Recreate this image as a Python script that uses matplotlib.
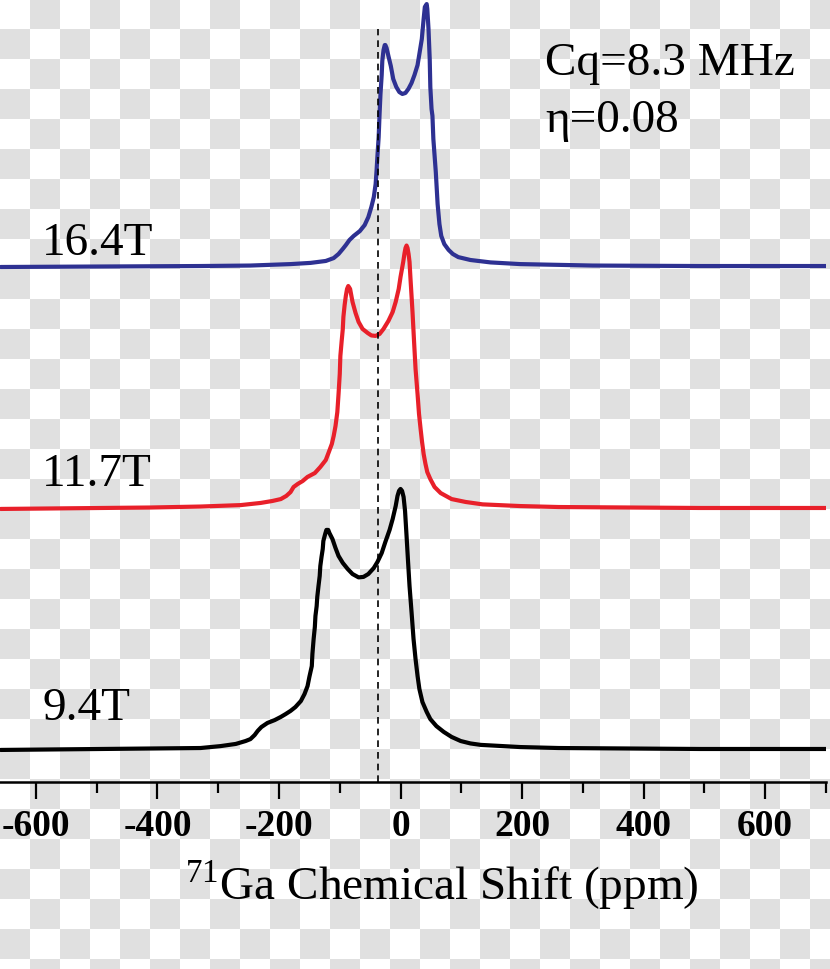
import matplotlib
matplotlib.use('Agg')
import matplotlib.pyplot as plt
import numpy as np

# 71Ga static spectra at three fields, intensities
# (each spectrum normalised so the stacking offset is 1)
fields = ['16.4T', '11.7T', '9.4T']
offsets = [2, 1, 0]
colors = ['#2e3192', '#e8202a', '#000000']

blue_ppm = [-658, -493, -329, -247, -181, -148, -123, -110, -102, -95,
            -90, -84, -77, -67, -59, -53, -48, -44, -41, -39.5,
            -38, -36, -34.5, -33, -31, -30, -28, -26, -25, -23,
            -20, -16, -12, -7, -2, 3, 8, 13, 18, 23,
            28, 31, 35, 38, 40, 43, 44, 46, 48, 49,
            51, 52.5, 54, 58, 61, 64, 67, 72, 79, 86,
            95, 115, 148, 197, 316, 493, 700]
blue_int = [0, .002, .004, .006, .012, .017, .025, .037, .054, .075,
            .091, .112, .129, .149, .174, .207, .249, .290, .344, .398,
            .461, .539, .635, .718, .797, .855, .900, .921, .921, .909,
            .876, .834, .780, .747, .726, .718, .722, .739, .763, .797,
            .838, .884, .946, 1.029, 1.079, 1.091, 1.071, .988, .863, .747,
            .656, .627, .531, .394, .261, .178, .129, .095, .071, .054,
            .041, .029, .019, .012, .006, .004, .004]

red_ppm = [-658, -411, -329, -263, -230, -211, -197, -188, -181, -176,
           -169, -161, -153, -141, -132, -123, -118, -113, -110, -107,
           -104, -102, -100, -99, -97, -95, -94, -92, -90, -88,
           -86, -83, -79, -74, -69, -62.5, -54, -48, -41, -34.5,
           -28, -20, -13, -8, -3, 0, 4.4, 6.6, 8.2, 9.9,
           11.5, 13.2, 14.8, 16.4, 18.1, 19.7, 22.2, 24.7, 28, 30.4,
           33, 35.4, 38, 41, 44, 49, 56, 66, 84, 107,
           135, 197, 260, 493, 700]
red_int = [-.004, .002, .006, .012, .021, .029, .037, .050, .066, .087,
           .100, .112, .129, .145, .170, .199, .232, .266, .299, .340,
           .398, .473, .556, .631, .689, .743, .793, .842, .880, .909,
           .921, .909, .855, .809, .772, .743, .726, .716, .714, .722,
           .743, .776, .813, .855, .909, .959, 1.021, 1.058, 1.079, 1.089,
           1.079, 1.054, 1.021, .950, .880, .813, .693, .577, .473, .390,
           .328, .274, .224, .183, .149, .120, .087, .062, .037, .025,
           .015, .008, .004, 0, 0]

black_ppm = [-658, -493, -329, -296, -271, -255, -247, -240, -235, -229,
             -219, -207, -197, -189, -181, -173, -164, -158, -153, -150,
             -146, -145, -143, -141, -140, -138, -137, -135, -133, -132,
             -130, -128, -127, -124, -122, -119, -117, -112, -107, -102,
             -95, -87, -79, -69, -61, -53, -44, -38, -31, -25,
             -18, -13, -8, -5, -2.5, 0, 2.5, 5, 7.4, 9.9,
             12.3, 14.8, 18.1, 21.4, 24.7, 28, 31, 36, 43, 49,
             59, 71, 84, 99, 115, 132, 197, 260, 493, 700]
black_int = [-.004, 0, .004, .012, .021, .033, .041, .058, .075, .091,
             .108, .120, .133, .145, .158, .174, .199, .228, .261, .299,
             .344, .394, .456, .506, .552, .593, .631, .676, .718, .759,
             .797, .830, .863, .892, .909, .909, .896, .871, .834, .801,
             .772, .747, .726, .712, .714, .726, .751, .776, .813, .859,
             .909, .954, 1.008, 1.050, 1.071, 1.079, 1.071, 1.046, .988, .884,
             .780, .676, .568, .456, .373, .303, .249, .195, .154, .124,
             .095, .071, .050, .033, .023, .017, .008, .004, 0, 0]

spectra = [(blue_ppm, blue_int), (red_ppm, red_int), (black_ppm, black_int)]
dash_ppm = -37
xticks_major = [-600, -400, -200, 0, 200, 400, 600]

plt.rcParams['font.family'] = ['Liberation Serif', 'DejaVu Serif']
plt.rcParams['mathtext.fontset'] = 'custom'
plt.rcParams['mathtext.rm'] = 'Liberation Serif'
plt.rcParams['axes.unicode_minus'] = False

fig = plt.figure(figsize=(8.3, 9.7), dpi=100)

# transparency checkerboard behind the plot
H, W, cell = 970, 830, 30
rows = np.arange(H) // cell
cols = np.arange(W) // cell
mask = (rows[:, None] + cols[None, :]) % 2 == 1
g = np.where(mask, 0.88, 1.0)
fig.figimage(np.dstack([g, g, g]), 0, 0, origin='upper', zorder=-1)

ax = fig.add_axes([0, 187 / 970, 826 / 830, 783 / 970])
ax.set_facecolor('none')

for (ppm, inten), off, c in zip(spectra, offsets, colors):
    ax.plot(ppm, np.array(inten) + off, color=c, lw=3.0,
            solid_joinstyle='round', solid_capstyle='round')

ax.axvline(dash_ppm, ymin=0, ymax=0.962, color='black', lw=1.2, linestyle=(0, (4, 3)))

ax.set_xlim(-659, 700)
ax.set_ylim(-0.137, 3.112)
ax.set_xticks(xticks_major)
ax.set_xticks(np.arange(-600, 701, 100), minor=True)
ax.tick_params(axis='x', which='major', direction='out', length=12, width=1.6, pad=7, labelsize=27)
ax.tick_params(axis='x', which='minor', direction='out', length=8, width=1.6)
for lbl in ax.get_xticklabels():
    lbl.set_fontweight('bold')
ax.yaxis.set_visible(False)
for s in ['left', 'top', 'right']:
    ax.spines[s].set_visible(False)
ax.spines['bottom'].set_linewidth(1.8)

fig.text(442 / 830, 1 - 885 / 970, r'$^{71}$Ga Chemical Shift (ppm)',
         fontsize=34, ha='center', va='center')

fig.text(42 / 830, 1 - 255 / 970, fields[0], fontsize=34, va='baseline')
fig.text(42 / 830, 1 - 486 / 970, fields[1], fontsize=34, va='baseline')
fig.text(42 / 830, 1 - 720 / 970, fields[2], fontsize=34, va='baseline')
fig.text(545 / 830, 1 - 75 / 970, 'Cq=8.3 MHz', fontsize=34, va='baseline')
fig.text(545 / 830, 1 - 132 / 970, 'η=0.08', fontsize=34, va='baseline')

fig.savefig('out.png', dpi=100)
